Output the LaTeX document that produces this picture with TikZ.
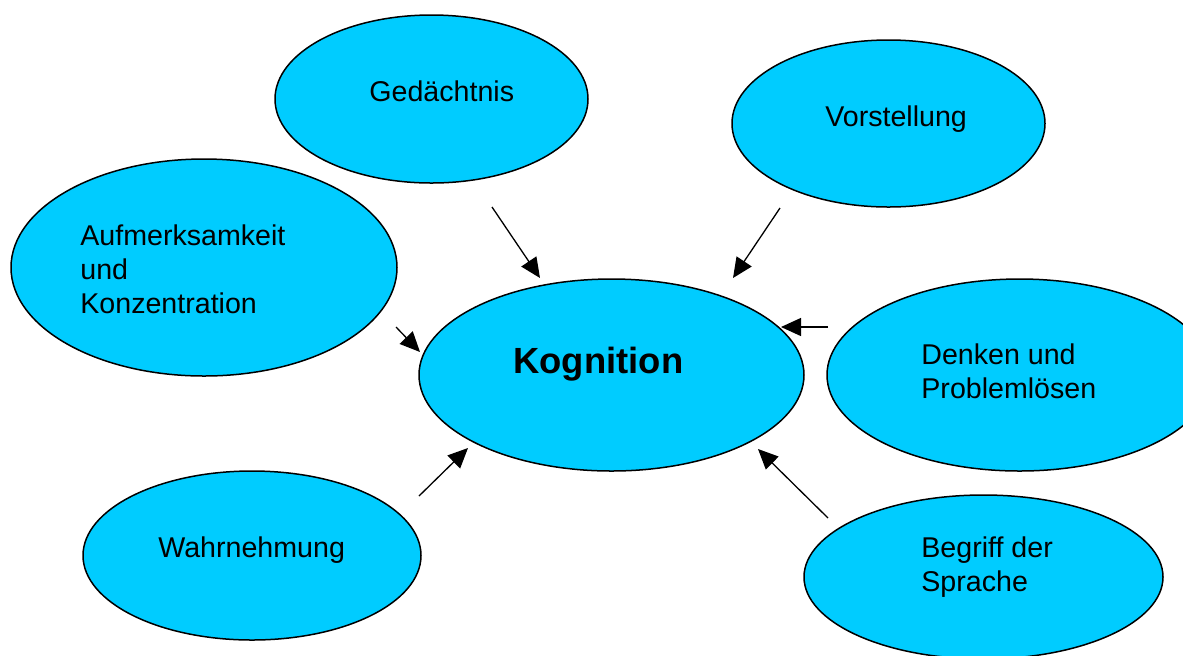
\documentclass[tikz,border=0pt]{standalone}
\usepackage{fontspec}
\setmainfont{Liberation Sans}
\usetikzlibrary{shapes.geometric,arrows.meta}
\definecolor{bubblecyan}{RGB}{0,204,255}
\begin{document}
\begin{tikzpicture}[x=0.5pt,y=-0.5pt,>={Triangle[length=10pt,width=9pt]},line join=round]
			\tikzset{bubble/.style={ellipse,draw=black,line width=0.75pt,fill=bubblecyan,inner sep=0pt},
				label/.style={anchor=base west,align=left,inner sep=0pt,font=\fontsize{14.3}{17}\selectfont},
				link/.style={->,line width=0.65pt}}
			\clip (0,0) rectangle (1183,655);
			% Ellipsen
			\node[bubble,minimum width=156.5pt,minimum height=84pt] (ged) at (431.5,99) {};
			\node[bubble,minimum width=156.5pt,minimum height=83.5pt] (vor) at (888.5,123.5) {};
			\node[bubble,minimum width=193pt,minimum height=108.5pt] (auf) at (204,267.5) {};
			\node[bubble,minimum width=192.5pt,minimum height=96pt] (kog) at (611.5,375) {};
			\node[bubble,minimum width=192.5pt,minimum height=96pt] (den) at (1019.5,375) {};
			\node[bubble,minimum width=169pt,minimum height=84.5pt] (wah) at (252,555.5) {};
			\node[bubble,minimum width=179.5pt,minimum height=82pt] (beg) at (983.5,577) {};
			% Beschriftungen (base = letzte Zeile)
			\node[label] (tged) at (369,101) {Gedächtnis};
			\node[label] (tvor) at (825,126) {Vorstellung};
			\node[label] (tauf) at (80,313) {Aufmerksamkeit\\und\\Konzentration};
			\node[label,font=\fontsize{18.2}{21}\bfseries] (tkog) at (513,373) {Kognition};
			\node[label] (tden) at (921,398) {Denken und\\Problemlösen};
			\node[label] (twah) at (158,557) {Wahrnehmung};
			\node[label] (tbeg) at (921,591) {Begriff der\\Sprache};
			% Pfeile
			\coordinate (ged-s) at (492,207); \coordinate (ged-e) at (540,278);
			\coordinate (vor-s) at (780,208); \coordinate (vor-e) at (733,278);
			\coordinate (den-s) at (828,327); \coordinate (den-e) at (781,327);
			\coordinate (auf-s) at (396,327); \coordinate (auf-e) at (420,352);
			\coordinate (wah-s) at (419,496); \coordinate (wah-e) at (468,448);
			\coordinate (beg-s) at (828,518); \coordinate (beg-e) at (758,449);
			\foreach \n in {ged,vor,den,auf,wah,beg}
				\draw[link] (\n-s)--(\n-e);
		\end{tikzpicture}
\end{document}
